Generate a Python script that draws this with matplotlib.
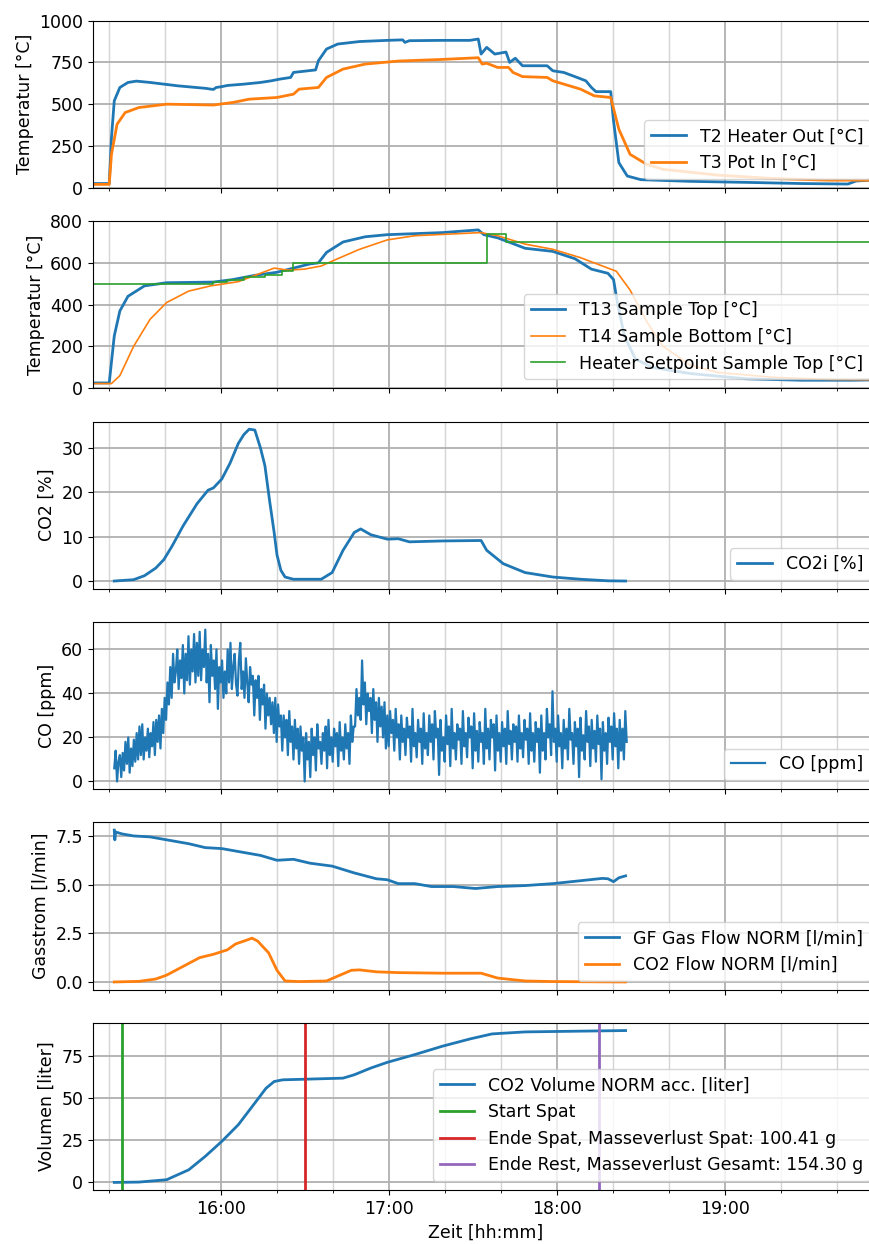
import numpy as np
import pandas as pd
import matplotlib
matplotlib.use('Agg')
import matplotlib.pyplot as plt
import matplotlib.dates as mdates

# all times in minutes after 15:00
t0 = pd.Timestamp('2020-01-01 15:00')

def to_time(minutes):
    return (t0 + pd.to_timedelta(np.asarray(minutes, dtype=float), unit='min')).to_pydatetime()

# --- heater / pot temperatures
t2_t = [15.1, 20.2, 21.0, 22.0, 24.0, 26.9, 29.9, 34.8, 44.6, 54.5, 57.4, 58.4, 60.4, 62.4, 68.3,
        74.2, 78.1, 81.1, 85.0, 86.0, 93.9, 94.9, 97.8, 101.8, 109.6, 119.5, 125.0, 125.8, 127.4,
        139.2, 149.0, 152.0, 153.0, 155.0, 157.9, 161.9, 163.2, 165.2, 167.8, 176.6, 178.6, 182.5,
        186.5, 190.4, 192.4, 194.0, 199.3, 200.3, 202.2, 205.2, 210.1, 227.8, 247.5, 267.2, 284.0,
        286.9, 296.0]
t2_v = [25, 25, 300, 520, 600, 630, 638, 630, 610, 595, 588, 600, 605, 612, 620,
        630, 640, 650, 660, 690, 705, 760, 830, 860, 875, 882, 885, 870, 880,
        882, 882, 890, 800, 840, 800, 812, 750, 775, 730, 730, 700, 690,
        665, 640, 600, 575, 575, 400, 150, 70, 48, 38, 32, 25, 22,
        40, 50]
t3_t = [15.1, 20.2, 21.0, 23.0, 25.9, 30.8, 40.7, 57.4, 64.3, 70.2, 80.1, 86.0, 88.0, 94.9, 97.8,
        103.7, 111.6, 123.4, 139.2, 152.0, 153.4, 155.0, 158.9, 162.8, 164.4, 167.8, 176.6, 178.6,
        188.5, 193.4, 199.3, 202.2, 206.2, 212.1, 218.0, 237.7, 257.4, 277.1, 296.0]
t3_v = [20, 20, 200, 380, 450, 480, 500, 495, 510, 530, 540, 560, 590, 600, 660,
        710, 740, 758, 768, 778, 740, 745, 720, 720, 690, 665, 660, 640,
        590, 550, 540, 350, 200, 140, 110, 75, 55, 45, 45]

# --- sample temperatures
t13_t = [15.1, 20.2, 22.0, 24.0, 26.9, 32.8, 40.7, 57.4, 64.3, 72.1, 80.1, 86.0, 91.9, 94.9, 97.8,
         103.7, 111.6, 119.5, 139.2, 152.0, 154.0, 158.9, 164.8, 168.7, 178.6, 186.5, 192.4, 198.3,
         200.3, 201.8, 204.2, 208.1, 214.0, 227.8, 247.5, 267.2, 284.9, 296.0]
t13_v = [25, 25, 250, 370, 440, 490, 505, 508, 520, 540, 555, 575, 595, 600, 650,
         700, 725, 735, 745, 758, 735, 720, 690, 670, 655, 620, 570, 550,
         520, 400, 250, 140, 100, 70, 45, 38, 38, 40]
t14_t = [15.1, 21.0, 24.0, 28.9, 34.8, 40.7, 48.6, 56.5, 66.3, 74.2, 79.1, 84.0, 89.9, 95.9, 101.8,
         109.6, 119.5, 129.3, 152.9, 158.9, 168.7, 178.6, 188.5, 198.3, 201.3, 206.2, 212.1, 218.0,
         227.8, 237.7, 257.4, 277.1, 296.0]
t14_v = [22, 22, 60, 200, 330, 410, 465, 490, 510, 550, 575, 565, 570, 585, 620,
         665, 710, 730, 745, 730, 690, 665, 625, 575, 560, 470, 320, 200,
         110, 75, 52, 42, 40]
sp_t = [14.7, 57.4, 62.4, 68.3, 76.0, 82.0, 86.0, 155.0, 161.9, 296.0]
sp_v = [500, 510, 520, 530, 540, 560, 600, 740, 700, 700]

# --- CO2 concentration
co2_t = [22.0, 28.9, 32.8, 36.8, 39.7, 42.7, 46.6, 51.6, 55.5, 57.4, 60.4, 63.3, 66.3, 68.3, 70.2,
         72.2, 74.2, 75.8, 77.5, 79.1, 80.1, 81.5, 83.0, 86.0, 95.9, 99.8, 103.7, 107.7, 110.0,
         113.6, 119.5, 123.4, 127.4, 139.2, 153.0, 155.0, 160.9, 168.7, 178.6, 188.5, 198.3, 204.6]
co2_v = [0.1, 0.4, 1.3, 3, 4.9, 8, 12.5, 17.5, 20.5, 21, 23, 26.5, 31, 33, 34.2,
         34, 30, 26, 18, 11, 6, 2.5, 1, 0.5, 0.5, 2, 7, 11, 11.8,
         10.5, 9.5, 9.6, 8.9, 9.1, 9.2, 7, 4, 2, 1, 0.5, 0.15, 0.1]

# --- CO, one sample per half minute from 15:22
co_start = 22
co_v = [6, 14, 0, 9, 12, 2, 13, 5, 18, 8, 20, 4, 15, 7, 19, 9, 22, 10, 25, 12,
        26, 10, 20, 14, 24, 11, 22, 16, 27, 12, 28, 18, 30, 15, 33, 22, 38, 28, 45, 35,
        52, 38, 58, 45, 50, 60, 42, 55, 47, 62, 40, 58, 46, 66, 44, 60, 50, 67, 45, 63,
        48, 68, 46, 60, 52, 69, 45, 58, 36, 62, 48, 55, 42, 60, 33, 52, 45, 55, 38, 50,
        40, 60, 45, 63, 42, 52, 58, 44, 39, 55, 63, 42, 50, 38, 56, 45, 36, 52, 44, 48,
        30, 46, 38, 48, 28, 42, 35, 44, 24, 40, 30, 38, 26, 36, 22, 38, 18, 35, 25, 30,
        14, 30, 20, 28, 12, 32, 18, 25, 10, 28, 15, 24, 8, 25, 14, 20, 0, 22, 10, 18,
        2, 24, 12, 20, 5, 26, 15, 18, 8, 22, 14, 25, 6, 28, 12, 20, 9, 24, 16, 22,
        7, 27, 14, 20, 10, 26, 15, 22, 8, 30, 18, 25, 25, 42, 30, 38, 28, 55, 35, 45,
        26, 40, 32, 38, 22, 42, 28, 36, 18, 38, 25, 34, 20, 36, 15, 30, 16, 32, 22, 28,
        14, 33, 20, 26, 10, 30, 18, 24, 12, 29, 20, 25, 9, 33, 16, 22, 11, 28, 18, 24,
        8, 31, 15, 22, 12, 30, 18, 26, 10, 32, 20, 24, 3, 28, 14, 20, 9, 30, 17, 25,
        7, 33, 15, 22, 10, 26, 19, 24, 8, 32, 16, 22, 11, 29, 20, 25, 6, 31, 14, 23,
        9, 27, 18, 22, 8, 33, 15, 24, 10, 28, 20, 26, 5, 30, 14, 22, 9, 27, 16, 24,
        8, 32, 17, 23, 10, 26, 18, 25, 9, 30, 15, 22, 11, 28, 19, 24, 8, 31, 14, 22,
        9, 27, 18, 24, 4, 30, 14, 22, 10, 33, 20, 26, 12, 41, 18, 24, 9, 30, 16, 22,
        6, 28, 15, 24, 10, 33, 19, 22, 8, 27, 16, 24, 2, 29, 14, 21, 10, 32, 18, 25,
        7, 28, 15, 23, 9, 30, 17, 24, 1, 27, 14, 22, 8, 29, 18, 25, 10, 31, 16, 24,
        6, 28, 14, 24, 10, 32, 18]
co_t = co_start + 0.5 * np.arange(len(co_v))

# --- gas flows
gf_t = [22.0, 22.2, 22.5, 24.9, 28.9, 34.8, 40.7, 48.6, 54.5, 60.4, 66.3, 74.2, 80.1, 86.0, 91.9,
        99.8, 107.7, 115.6, 119.5, 123.4, 129.3, 135.3, 143.1, 151.0, 158.9, 168.7, 178.6, 188.5,
        196.3, 198.3, 200.3, 202.2, 204.6]
gf_v = [7.8, 7.3, 7.7, 7.6, 7.5, 7.45, 7.3, 7.1, 6.9, 6.85, 6.7, 6.5, 6.25, 6.3, 6.1,
        5.95, 5.6, 5.3, 5.25, 5.05, 5.05, 4.9, 4.9, 4.8, 4.9, 4.95, 5.05, 5.2,
        5.32, 5.3, 5.15, 5.35, 5.45]
cf_t = [22.0, 30.8, 36.8, 40.7, 46.6, 52.5, 57.4, 62.4, 65.3, 69.3, 71.2, 73.2, 77.1, 80.1, 83.0,
        88.0, 97.8, 101.8, 106.7, 109.6, 115.6, 123.4, 139.2, 153.0, 158.9, 168.7, 178.6, 204.6]
cf_v = [0, 0.03, 0.15, 0.35, 0.8, 1.25, 1.42, 1.65, 1.95, 2.15, 2.25, 2.1, 1.5, 0.6, 0.05,
        0.02, 0.05, 0.3, 0.6, 0.62, 0.52, 0.48, 0.45, 0.45, 0.2, 0.05, 0.02, 0]

# --- accumulated CO2 volume
vol_t = [22.0, 30.8, 40.7, 48.6, 54.5, 60.4, 66.3, 72.2, 76.2, 79.1, 82.1, 103.7, 107.7, 113.6,
         119.5, 129.3, 139.2, 149.0, 156.9, 168.7, 204.6]
vol_v = [0, 0.2, 1.6, 7.5, 15.5, 24.4, 34.3, 47.2, 56, 60, 61, 62, 64, 68,
         71.4, 76, 81, 85.3, 88.3, 89.5, 90.3]
marks = [24.9, 90.0, 195.0]
mark_labels = ['Start Spat', 'Ende Spat, Masseverlust Spat: 100.41 g',
               'Ende Rest, Masseverlust Gesamt: 154.30 g']
mark_colors = ['C2', 'C3', 'C4']

plt.rcParams['font.size'] = 12.5
plt.rcParams['font.family'] = 'DejaVu Sans'

fig, axs = plt.subplots(6, 1, sharex=True, figsize=(8.69, 12.44), dpi=100)
fig.subplots_adjust(left=0.107, right=1.0115, top=0.9834, bottom=0.0434, hspace=0.2)

ax = axs[0]
ax.plot(to_time(t2_t), t2_v, lw=2, label='T2 Heater Out [°C]')
ax.plot(to_time(t3_t), t3_v, lw=2, label='T3 Pot In [°C]')
ax.set_ylim(0, 1000)
ax.set_ylabel('Temperatur [°C]')

ax = axs[1]
ax.plot(to_time(t13_t), t13_v, lw=2, label='T13 Sample Top [°C]')
ax.plot(to_time(t14_t), t14_v, lw=1.2, label='T14 Sample Bottom [°C]')
ax.plot(to_time(sp_t), sp_v, lw=1.2, drawstyle='steps-post', label='Heater Setpoint Sample Top [°C]')
ax.set_ylim(0, 800)
ax.set_ylabel('Temperatur [°C]')

ax = axs[2]
ax.plot(to_time(co2_t), co2_v, lw=2, label='CO2i [%]')
ax.set_ylabel('CO2 [%]')

ax = axs[3]
ax.plot(to_time(co_t), co_v, lw=1.6, label='CO [ppm]')
ax.set_ylabel('CO [ppm]')

ax = axs[4]
ax.plot(to_time(gf_t), gf_v, lw=2, label='GF Gas Flow NORM [l/min]')
ax.plot(to_time(cf_t), cf_v, lw=2, label='CO2 Flow NORM [l/min]')
ax.set_ylabel('Gasstrom [l/min]')

ax = axs[5]
ax.plot(to_time(vol_t), vol_v, lw=2, label='CO2 Volume NORM acc. [liter]')
for m, lab, c in zip(marks, mark_labels, mark_colors):
    ax.axvline(to_time([m])[0], color=c, lw=2, label=lab)
ax.set_ylabel('Volumen [liter]')
ax.set_xlabel('Zeit [hh:mm]')

for ax in axs:
    ax.xaxis.set_major_locator(mdates.HourLocator())
    ax.xaxis.set_minor_locator(mdates.MinuteLocator(byminute=[20, 40]))
    ax.xaxis.set_major_formatter(mdates.DateFormatter('%H:%M'))
    ax.grid(which='major', color='#b0b0b0', lw=1.3)
    ax.grid(which='minor', axis='x', color='#d5d5d5', lw=1.0)
    ax.legend(loc='lower right')

axs[0].set_xlim(to_time([14.4, 295.1]))

fig.savefig('out.png', dpi=100)
